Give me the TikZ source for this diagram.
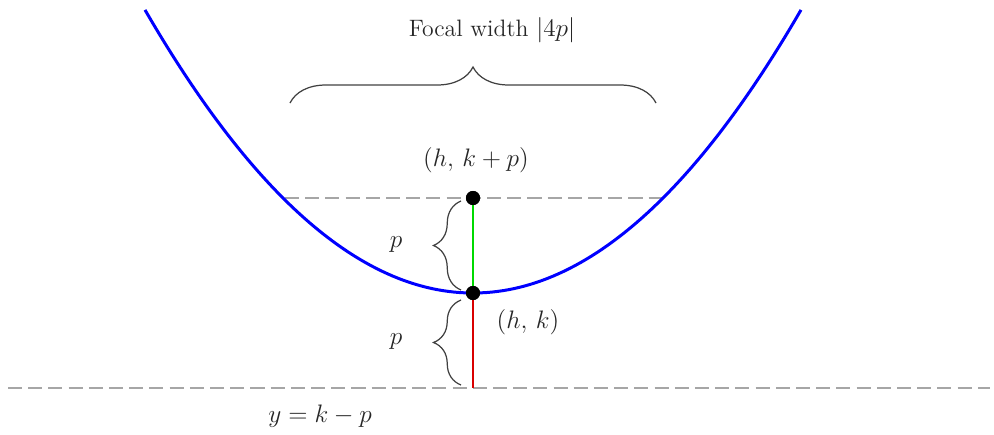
\documentclass[tikz,border=0pt]{standalone}
\usetikzlibrary{decorations.pathreplacing}
\begin{document}
\begin{tikzpicture}[x=0.02cm,y=-0.02cm,
  guide/.style={gray!70,line width=0.9pt,dash pattern=on 8pt off 3.5pt},
  curly/.style={draw=black!75,line width=0.7pt,decorate,decoration={brace,amplitude=#1}},
  dot/.style={circle,fill=black,inner sep=0pt,minimum size=8pt},
  lbl/.style={font=\fontsize{13.5}{16}\selectfont,text=black!85},
  mlbl/.style={font=\fontsize{15.5}{18}\selectfont,text=black!85}]
\useasboundingbox (0,0) rectangle (994,434);
% guides
\coordinate (dl) at (8,388);
\coordinate (dr) at (990,388);
\coordinate (fl) at (285,198);
\coordinate (fr) at (662,198);
\draw[guide] (dl) -- (dr);
\draw[guide] (fl) -- (fr);
% parabola
\draw[blue,line width=1.7pt,domain=145:801,samples=120] plot (\x,{293-((\x-473)/19.494)^2});
% segments
\node[dot] (F) at (473,198) {};
\node[dot] (V) at (473,293) {};
\coordinate (D) at (473,388);
\draw[green!85!black,line width=1.6pt] (F) -- (V);
\draw[red!85!black,line width=1.6pt] (V) -- (D);
\node[dot] at (F) {};
\node[dot] at (V) {};
% braces
\coordinate (b1a) at (290,103);
\coordinate (b1b) at (656,103);
\draw[curly=0.72cm] (b1a) -- (b1b);
\coordinate (b2a) at (461,290);
\coordinate (b2b) at (461,201);
\draw[curly=0.55cm] (b2a) -- (b2b);
\coordinate (b3a) at (461,385);
\coordinate (b3b) at (461,300);
\draw[curly=0.55cm] (b3a) -- (b3b);
% labels
\node[lbl] (tw) at (492,30) {Focal width $|4p|$};
\node[mlbl] (tf) at (476,160) {$(h,\,k+p)$};
\node[mlbl] (tv) at (528,322) {$(h,\,k)$};
\node[mlbl] (tp1) at (396,245) {$p$};
\node[mlbl] (tp2) at (396,342) {$p$};
\node[mlbl] (td) at (320,416) {$y=k-p$};
\end{tikzpicture}
\end{document}
